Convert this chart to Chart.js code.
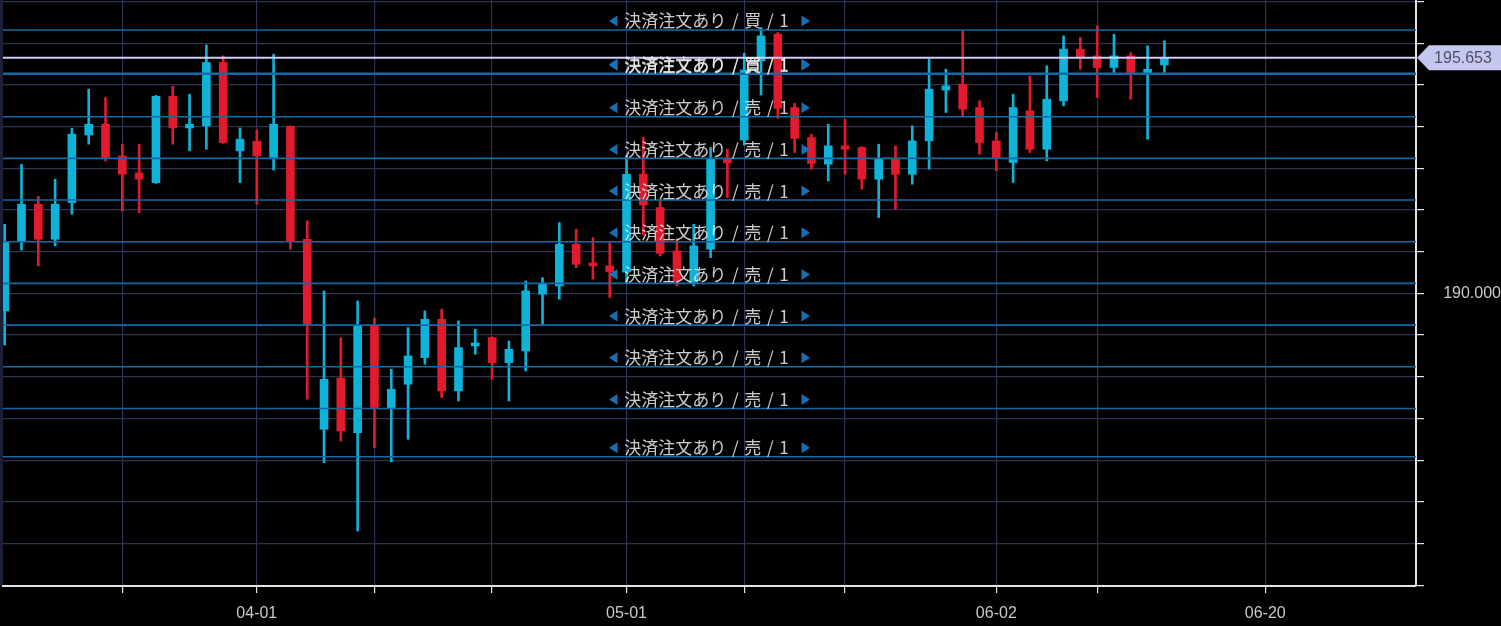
<!DOCTYPE html>
<html>
<head>
<meta charset="utf-8">
<script src="https://cdn.jsdelivr.net/npm/chart.js@4.4.0/dist/chart.umd.min.js"></script>
<style>
html, body { margin: 0; padding: 0; background: #000; }
#wrap { width: 1501px; height: 626px; }
</style>
</head>
<body>
<div id="wrap"><canvas id="chart" width="1501" height="626"></canvas></div>
<script>
// daily candles, oldest first
const opens = [189.58,191.26,192.14,191.30,192.18,193.80,194.06,193.30,192.89,192.66,
  194.73,193.97,194.02,195.54,193.42,193.65,193.26,194.01,191.30,186.74,
  187.97,186.66,189.22,187.26,187.82,188.46,189.38,187.66,188.74,188.94,
  188.34,188.62,189.98,190.18,191.18,190.73,190.66,190.51,192.86,192.06,
  191.02,190.26,191.06,193.22,193.68,195.58,196.22,194.46,193.74,193.10,
  193.54,193.50,192.74,193.22,192.86,193.66,194.88,195.02,194.46,193.66,
  193.14,194.38,193.46,194.62,195.86,195.70,195.42,195.70,195.30,195.48];
const highs = [191.66,193.10,192.33,192.74,193.96,194.90,194.70,193.58,193.58,194.75,
  194.97,194.78,195.96,195.70,193.97,193.92,195.74,194.02,191.74,190.06,
  188.94,189.82,189.41,188.18,189.18,189.58,189.62,189.34,189.14,188.96,
  188.86,190.30,190.38,191.70,191.54,191.34,191.22,193.30,193.74,192.22,
  191.30,191.66,193.50,193.46,195.76,196.38,196.26,194.56,193.82,194.06,
  194.18,193.52,193.58,193.54,194.02,195.62,195.38,196.30,194.62,193.86,
  194.78,195.22,195.46,196.18,196.14,196.42,196.22,195.78,195.94,196.06];
const lows = [188.76,191.04,190.66,191.14,191.90,193.58,193.18,191.98,191.94,192.64,
  193.58,193.42,193.46,193.60,192.66,192.14,192.96,191.06,187.46,185.94,
  186.46,184.30,186.30,185.96,186.50,188.30,187.50,187.42,188.54,187.94,
  187.42,188.14,189.26,189.86,190.62,190.34,189.90,190.25,191.40,190.90,
  190.18,190.18,190.86,192.30,193.56,194.76,194.20,193.38,192.98,192.70,
  192.86,192.50,191.82,192.02,192.62,192.98,194.34,194.26,193.34,192.94,
  192.66,193.38,193.18,194.50,195.38,194.70,195.30,194.66,193.70,195.30];
const closes = [191.24,192.14,191.30,192.14,193.82,194.06,193.26,192.86,192.74,194.73,
  193.97,194.06,195.54,193.62,193.70,193.30,194.06,191.26,189.26,187.94,
  186.70,189.22,187.26,187.70,188.50,189.38,187.66,188.70,188.80,188.34,
  188.66,190.06,190.22,191.18,190.70,190.66,190.52,192.86,192.12,190.96,
  190.30,191.14,193.24,193.13,195.36,196.18,194.44,193.72,193.12,193.54,
  193.46,192.74,193.22,192.86,193.66,194.90,194.98,194.42,193.62,193.26,
  194.46,193.46,194.66,195.86,195.66,195.42,195.70,195.30,195.38,195.653];

const currentPrice = 195.653;

// open orders (price, side, quantity)
const orderPrices = [196.32, 195.28, 195.26, 194.24, 193.24, 192.24, 191.24, 190.24, 189.24, 188.24, 187.24, 186.08];
const orderSides = ['買', '買', '買', '売', '売', '売', '売', '売', '売', '売', '売', '売'];
const orderQty = [1, 1, 1, 1, 1, 1, 1, 1, 1, 1, 1, 1];

// axis ticks
const xTickIdx = [7, 15, 22, 29, 37, 44, 50, 59, 65, 75];
const xTickText = ['', '04-01', '', '', '05-01', '', '', '06-02', '', '06-20'];
const yTicks = [183, 184, 185, 186, 187, 188, 189, 190, 191, 192, 193, 194, 195, 196, 197];
const yLabelled = [190];

const X_MIN = -0.1, X_MAX = 83.97;
const UP = '#0fb2d8', DOWN = '#e21a2e';
const GRID = '#2d3253';
const ORDER_BLUE = '#156aa5';
const AXIS = '#e4e4e4';
const SP = '\u2004';

const candleColors = opens.map((o, i) => closes[i] >= o ? UP : DOWN);

const wickData = opens.map((o, i) => ({ x: i, y: [lows[i], highs[i]] }));
const bodyData = opens.map((o, i) => ({ x: i, y: [o, closes[i]] }));

const orderSets = orderPrices.map(p => ({
  type: 'line',
  data: [{ x: X_MIN, y: p }, { x: X_MAX, y: p }],
  borderColor: ORDER_BLUE,
  borderWidth: 1.6,
  pointRadius: 0,
  order: 0
}));

const bgPlugin = {
  id: 'bg',
  beforeDraw(chart) {
    const ctx = chart.ctx;
    ctx.save();
    ctx.fillStyle = '#000';
    ctx.fillRect(0, 0, chart.width, chart.height);
    ctx.fillStyle = '#1b2038';
    ctx.fillRect(0, 0, 3, chart.chartArea.bottom);
    ctx.restore();
  }
};

const orderLabels = {
  id: 'orderLabels',
  afterDatasetsDraw(chart) {
    const ctx = chart.ctx;
    const ys = chart.scales.y;
    const ca = chart.chartArea;
    const cx = (ca.left + ca.right) / 2;
    ctx.save();
    ctx.font = '17px "Noto Sans CJK JP"';
    ctx.textAlign = 'center';
    ctx.textBaseline = 'middle';
    orderPrices.forEach((p, i) => {
      const y = ys.getPixelForValue(p) - 9;
      ctx.fillStyle = 'rgba(236,236,236,0.86)';
      ctx.fillText('決済注文あり' + SP + '/' + SP + orderSides[i] + SP + '/' + SP + orderQty[i], cx - 3, y);
      ctx.fillStyle = '#1870b4';
      ctx.beginPath();
      ctx.moveTo(cx - 100.5, y);
      ctx.lineTo(cx - 92, y - 5.5);
      ctx.lineTo(cx - 92, y + 5.5);
      ctx.closePath();
      ctx.fill();
      ctx.beginPath();
      ctx.moveTo(cx + 100.5, y);
      ctx.lineTo(cx + 92, y - 5.5);
      ctx.lineTo(cx + 92, y + 5.5);
      ctx.closePath();
      ctx.fill();
    });
    ctx.restore();
  },
  afterDraw(chart) {
    // last price tag on the right axis
    const ctx = chart.ctx;
    const y = chart.scales.y.getPixelForValue(currentPrice);
    const x0 = chart.chartArea.right + 1;
    ctx.save();
    ctx.fillStyle = '#c6c7f0';
    ctx.beginPath();
    ctx.moveTo(x0, y);
    ctx.lineTo(x0 + 12, y - 12.5);
    ctx.lineTo(chart.width, y - 12.5);
    ctx.lineTo(chart.width, y + 12.5);
    ctx.lineTo(x0 + 12, y + 12.5);
    ctx.closePath();
    ctx.fill();
    ctx.fillStyle = '#4f5064';
    ctx.font = '16px "Liberation Sans"';
    ctx.textAlign = 'center';
    ctx.textBaseline = 'middle';
    ctx.fillText(currentPrice.toFixed(3), x0 + 46, y + 1);
    ctx.restore();
  }
};

const ctx = document.getElementById('chart').getContext('2d');
new Chart(ctx, {
  type: 'bar',
  data: {
    datasets: [
      ...orderSets,
      {
        type: 'line',
        data: [{ x: X_MIN, y: currentPrice }, { x: X_MAX, y: currentPrice }],
        borderColor: '#d0cdf6',
        borderWidth: 2,
        pointRadius: 0,
        order: 0
      },
      {
        type: 'bar',
        data: bodyData,
        backgroundColor: candleColors,
        barThickness: 8,
        minBarLength: 3,
        grouped: false,
        order: 1
      },
      {
        type: 'bar',
        data: wickData,
        backgroundColor: candleColors,
        barThickness: 2,
        grouped: false,
        order: 2
      }
    ]
  },
  options: {
    responsive: false,
    animation: false,
    layout: { padding: { left: 3, top: 0, right: 0, bottom: 0 } },
    plugins: { legend: { display: false }, tooltip: { enabled: false } },
    scales: {
      x: {
        type: 'linear',
        min: X_MIN,
        max: X_MAX,
        offset: false,
        afterBuildTicks: s => { s.ticks = xTickIdx.map(v => ({ value: v })); },
        afterFit: s => { s.height = 40; s.paddingLeft = 0; s.paddingRight = 0; },
        grid: { offset: false, color: GRID, tickColor: AXIS, tickLength: 7, lineWidth: 1.2 },
        border: { color: AXIS, width: 2 },
        ticks: {
          autoSkip: false,
          maxRotation: 0,
          padding: 11,
          color: '#c9c9c9',
          font: { family: 'Liberation Sans', size: 16 },
          callback: (v, i) => xTickText[i]
        }
      },
      y: {
        type: 'linear',
        position: 'right',
        min: 182.98,
        max: 197.04,
        afterBuildTicks: s => { s.ticks = yTicks.map(v => ({ value: v })); },
        afterFit: s => { s.width = 85; s.paddingTop = 0; s.paddingBottom = 0; },
        grid: { color: GRID, tickColor: AXIS, tickLength: 8, lineWidth: 1.2 },
        border: { color: AXIS, width: 2 },
        ticks: {
          crossAlign: 'far',
          padding: 4,
          color: '#c9c9c9',
          font: { family: 'Liberation Sans', size: 16 },
          callback: v => yLabelled.includes(v) ? v.toFixed(3) : ''
        }
      }
    }
  },
  plugins: [bgPlugin, orderLabels]
});
</script>
</body>
</html>
